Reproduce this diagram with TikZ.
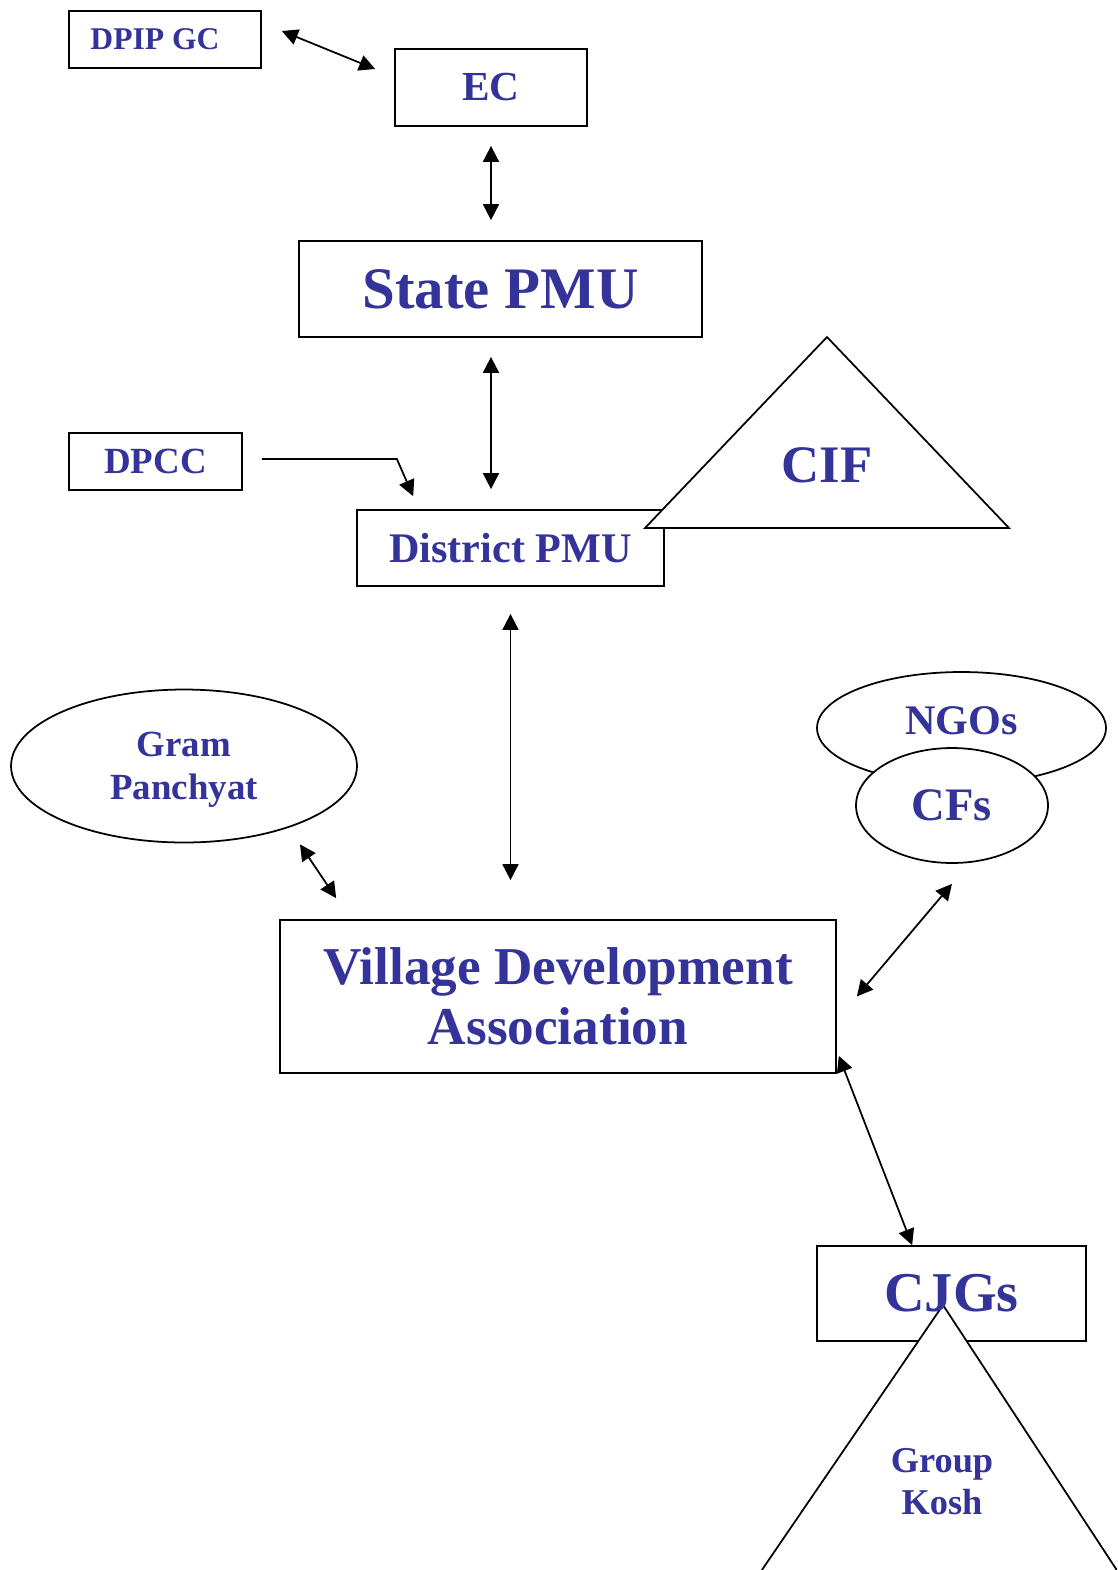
\documentclass[tikz,border=0pt]{standalone}
\usepackage{fontspec}
\setmainfont{Liberation Serif}
\usetikzlibrary{arrows.meta}
\usetikzlibrary{shapes.geometric,calc}

\definecolor{orgblue}{RGB}{51,51,153}
\newcommand{\fsz}[2]{\bfseries\fontsize{#1}{#2}\selectfont}

\tikzset{
	unit/.style={draw,line width=1pt,inner sep=0pt,text=orgblue,align=center},
	blob/.style={ellipse,draw,fill=white,line width=1pt,inner sep=0pt,text=orgblue,align=center},
	tag/.style={text=orgblue,align=center,inner sep=0pt},
	link/.style={line width=1pt,{Triangle[length=3.2mm,width=3.2mm]}-{Triangle[length=3.2mm,width=3.2mm]}},
	feed/.style={line width=1pt,-{Triangle[length=3.2mm,width=3.2mm]}}
}

\begin{document}
\begin{tikzpicture}[x=0.02cm,y=-0.02cm]
		\useasboundingbox (0,0) rectangle (1117,1570);

		\node[unit,minimum width=3.84cm,minimum height=1.14cm,font=\fsz{18}{21}] (dpip) at (165,39.5) {DPIP GC\hspace*{0.4cm}};
		\node[unit,minimum width=3.84cm,minimum height=1.54cm,font=\fsz{23.5}{27}] (ec) at (491,87.5) {EC};
		\node[unit,minimum width=8.06cm,minimum height=1.92cm,font=\fsz{33.5}{40}] (spmu) at (500.5,289) {State PMU};
		\node[unit,minimum width=3.46cm,minimum height=1.14cm,font=\fsz{21}{25}] (dpcc) at (155.5,461.5) {DPCC};
		\node[unit,minimum width=6.14cm,minimum height=1.52cm,font=\fsz{24}{28}] (dpmu) at (510.5,548) {District PMU};

		% CIF sits over the corner of the district box
		\draw[fill=white,line width=1pt] (827,337) -- (645,528) -- (1009,528) -- cycle;
		\node[tag,font=\fsz{30}{34}] (cif) at (827,465) {CIF};

		\node[blob,minimum width=6.92cm,minimum height=3.06cm,text depth=0pt,font=\fsz{21}{24.5}] (gp) at (184,766) {Gram\\Panchyat};
		\node[blob,minimum width=5.78cm,minimum height=2.24cm,font=\fsz{24}{28}] (ngo) at (961.5,728) {\raisebox{3mm}{NGOs}};
		\node[blob,minimum width=3.84cm,minimum height=2.3cm,font=\fsz{26.5}{30}] (cf) at (952,805.5) {CFs};

		\node[unit,minimum width=11.12cm,minimum height=3.06cm,font=\fsz{30.3}{34}] (vda) at (558,996.5) {Village Development\\Association};

		\node[unit,minimum width=5.38cm,minimum height=1.9cm] (cjg) at (951.5,1293.5) {};
		\begin{scope}
			\clip (0,0) rectangle (1117,1570);
			\draw[fill=white,line width=1pt] (943,1305) -- (673,1700) -- (1202,1700) -- cycle;
		\end{scope}
		\node[tag,font=\fsz{32}{36}] (cjgtext) at (cjg) {CJGs};
		\node[tag,font=\fsz{20.7}{24}] (kosh) at (942,1482) {Group\\Kosh};

		\draw[link] ($(dpip.east)+(20,-8.5)$) -- ($(ec.west)+(-19,-18.5)$);
		\draw[link] ($(ec.south)+(0,19)$) -- ($(ec.south |- spmu.north)+(0,-20)$);
		\draw[link] ($(spmu.south -| ec.south)+(0,19)$) -- ($(dpmu.north -| ec.south)+(0,-20)$);
		\draw[feed] ($(dpcc.east)+(19,-2.5)$) -- ++(135,0) -- ($(dpmu.north west)+(57,-13)$);
		\draw[link] ($(dpmu.south)+(0,27)$) -- ($(dpmu.south |- vda.north)+(0,-39)$);
		\draw[link] ($(gp.south)+(116,1)$) -- ($(vda.north west)+(57,-21)$);
		\draw[link] ($(cf.south)+(0,20)$) -- ($(vda.east)+(20,0)$);
		\draw[link] ($(vda.south east)+(2,-18)$) -- ($(cjg.north west)+(96,0)$);
\end{tikzpicture}
\end{document}
